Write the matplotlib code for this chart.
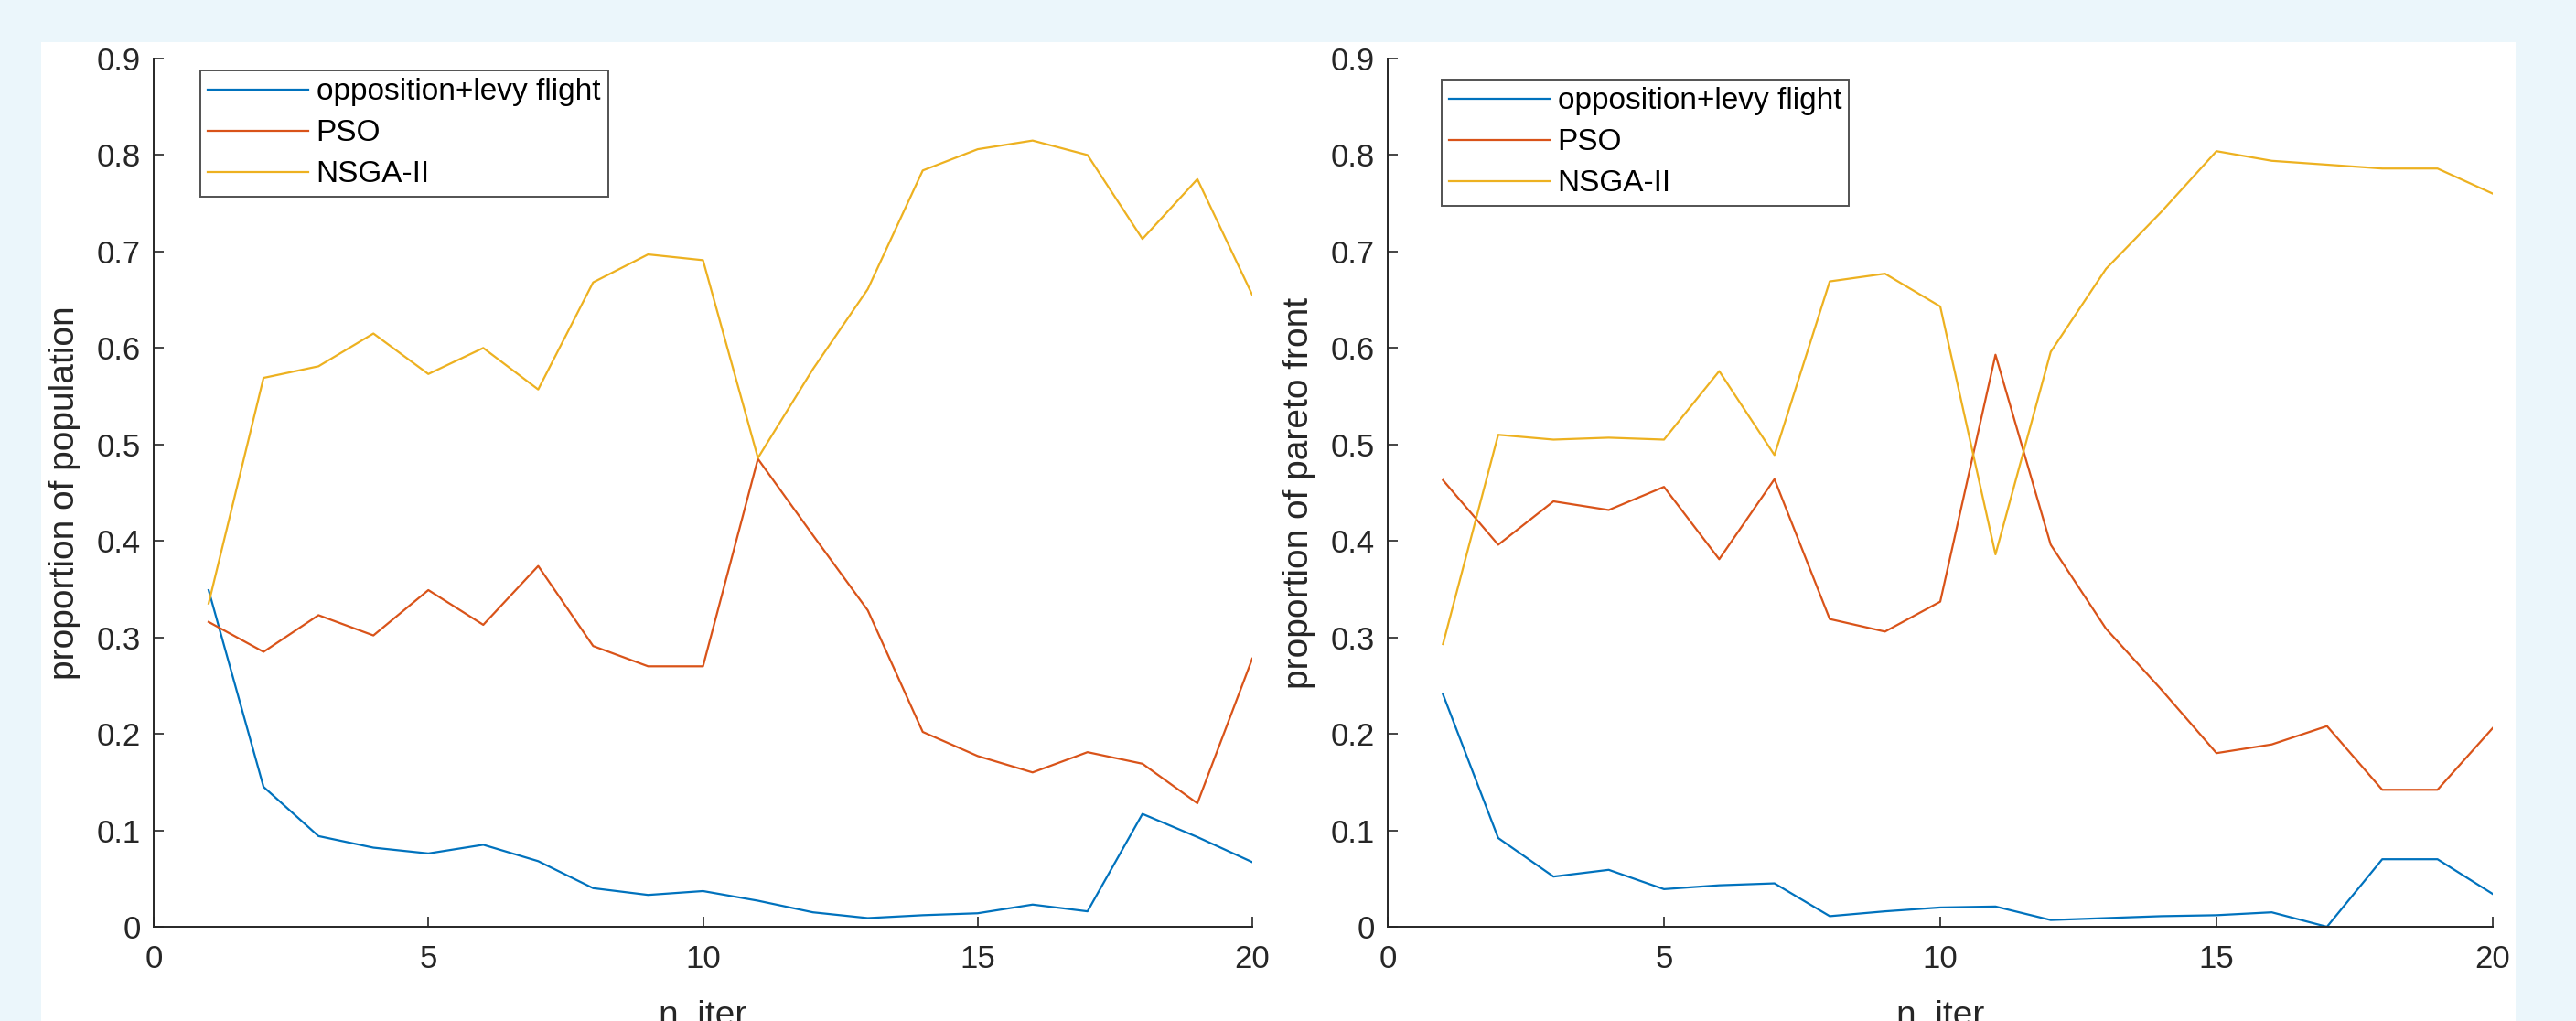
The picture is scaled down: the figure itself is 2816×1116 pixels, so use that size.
import matplotlib
matplotlib.use("Agg")
import matplotlib.pyplot as plt
from matplotlib.patches import Rectangle

plt.rcParams['font.family'] = ['Liberation Sans', 'DejaVu Sans']

n_iter = list(range(1, 21))

# proportion of population
pop_levy = [0.349, 0.145, 0.094, 0.082, 0.076, 0.085, 0.068, 0.040, 0.033, 0.037,
            0.027, 0.015, 0.009, 0.012, 0.014, 0.023, 0.016, 0.117, 0.093, 0.067]
pop_pso = [0.316, 0.285, 0.323, 0.302, 0.349, 0.313, 0.374, 0.291, 0.270, 0.270,
           0.485, 0.406, 0.328, 0.202, 0.177, 0.160, 0.181, 0.169, 0.128, 0.278]
pop_nsga = [0.335, 0.569, 0.581, 0.615, 0.573, 0.600, 0.557, 0.668, 0.697, 0.691,
            0.486, 0.578, 0.661, 0.784, 0.806, 0.815, 0.800, 0.713, 0.775, 0.655]

# proportion of pareto front
pf_levy = [0.241, 0.092, 0.052, 0.059, 0.039, 0.043, 0.045, 0.011, 0.016, 0.020,
           0.021, 0.007, 0.009, 0.011, 0.012, 0.015, 0.000, 0.070, 0.070, 0.034]
pf_pso = [0.463, 0.396, 0.441, 0.432, 0.456, 0.381, 0.464, 0.319, 0.306, 0.337,
          0.593, 0.396, 0.309, 0.246, 0.180, 0.189, 0.208, 0.142, 0.142, 0.206]
pf_nsga = [0.293, 0.510, 0.505, 0.507, 0.505, 0.576, 0.489, 0.669, 0.677, 0.643,
           0.386, 0.596, 0.682, 0.741, 0.804, 0.794, 0.790, 0.786, 0.786, 0.760]

labels = ['opposition+levy flight', 'PSO', 'NSGA-II']
colors = ['#0072BD', '#D95319', '#EDB120']
axis_col = '#262626'

W, H = 2816, 1116
fig = plt.figure(figsize=(W / 100, H / 100), dpi=100, facecolor='#EBF6FB')
fig.patches.append(Rectangle((45 / W, 0), (2750 - 45) / W, (H - 46) / H,
                             transform=fig.transFigure, facecolor='white',
                             edgecolor='none', zorder=-10))

ax1 = fig.add_axes([168 / W, 103 / H, 1201 / W, 949 / H])
ax2 = fig.add_axes([1517 / W, 103 / H, 1208 / W, 949 / H])

panels = [
    (ax1, [pop_levy, pop_pso, pop_nsga], 'proportion of population', (0.0425, 0.9863)),
    (ax2, [pf_levy, pf_pso, pf_nsga], 'proportion of pareto front', (0.0488, 0.9758)),
]

for ax, series, ylab, anchor in panels:
    ax.set_facecolor('none')
    for vals, lab, c in zip(series, labels, colors):
        ax.plot(n_iter, vals, color=c, lw=1.6, label=lab)
    ax.set_xlim(0, 20)
    ax.set_ylim(0, 0.9)
    ax.set_xticks([0, 5, 10, 15, 20])
    ax.set_yticks([i / 10 for i in range(10)])
    ax.set_yticklabels(['0'] + ['0.%d' % i for i in range(1, 10)])
    ax.spines['top'].set_visible(False)
    ax.spines['right'].set_visible(False)
    for s in ('left', 'bottom'):
        ax.spines[s].set_color(axis_col)
        ax.spines[s].set_linewidth(1.4)
    ax.tick_params(axis='both', direction='in', length=8, width=1.2,
                   colors=axis_col, labelsize=25)
    ax.tick_params(axis='y', pad=10)
    ax.tick_params(axis='x', pad=14)
    ax.set_ylabel(ylab, fontsize=28, color=axis_col, labelpad=12)
    ax.set_xlabel('n_iter', fontsize=28, color=axis_col, labelpad=20)
    leg = ax.legend(loc='upper left', bbox_to_anchor=anchor, fontsize=24,
                    frameon=True, fancybox=False, handlelength=3.3,
                    handletextpad=0.25, labelspacing=0.42, borderpad=0.25,
                    borderaxespad=0)
    leg.get_frame().set_edgecolor(axis_col)
    leg.get_frame().set_linewidth(1.4)

fig.savefig('out.png', dpi=100, facecolor=fig.get_facecolor())
